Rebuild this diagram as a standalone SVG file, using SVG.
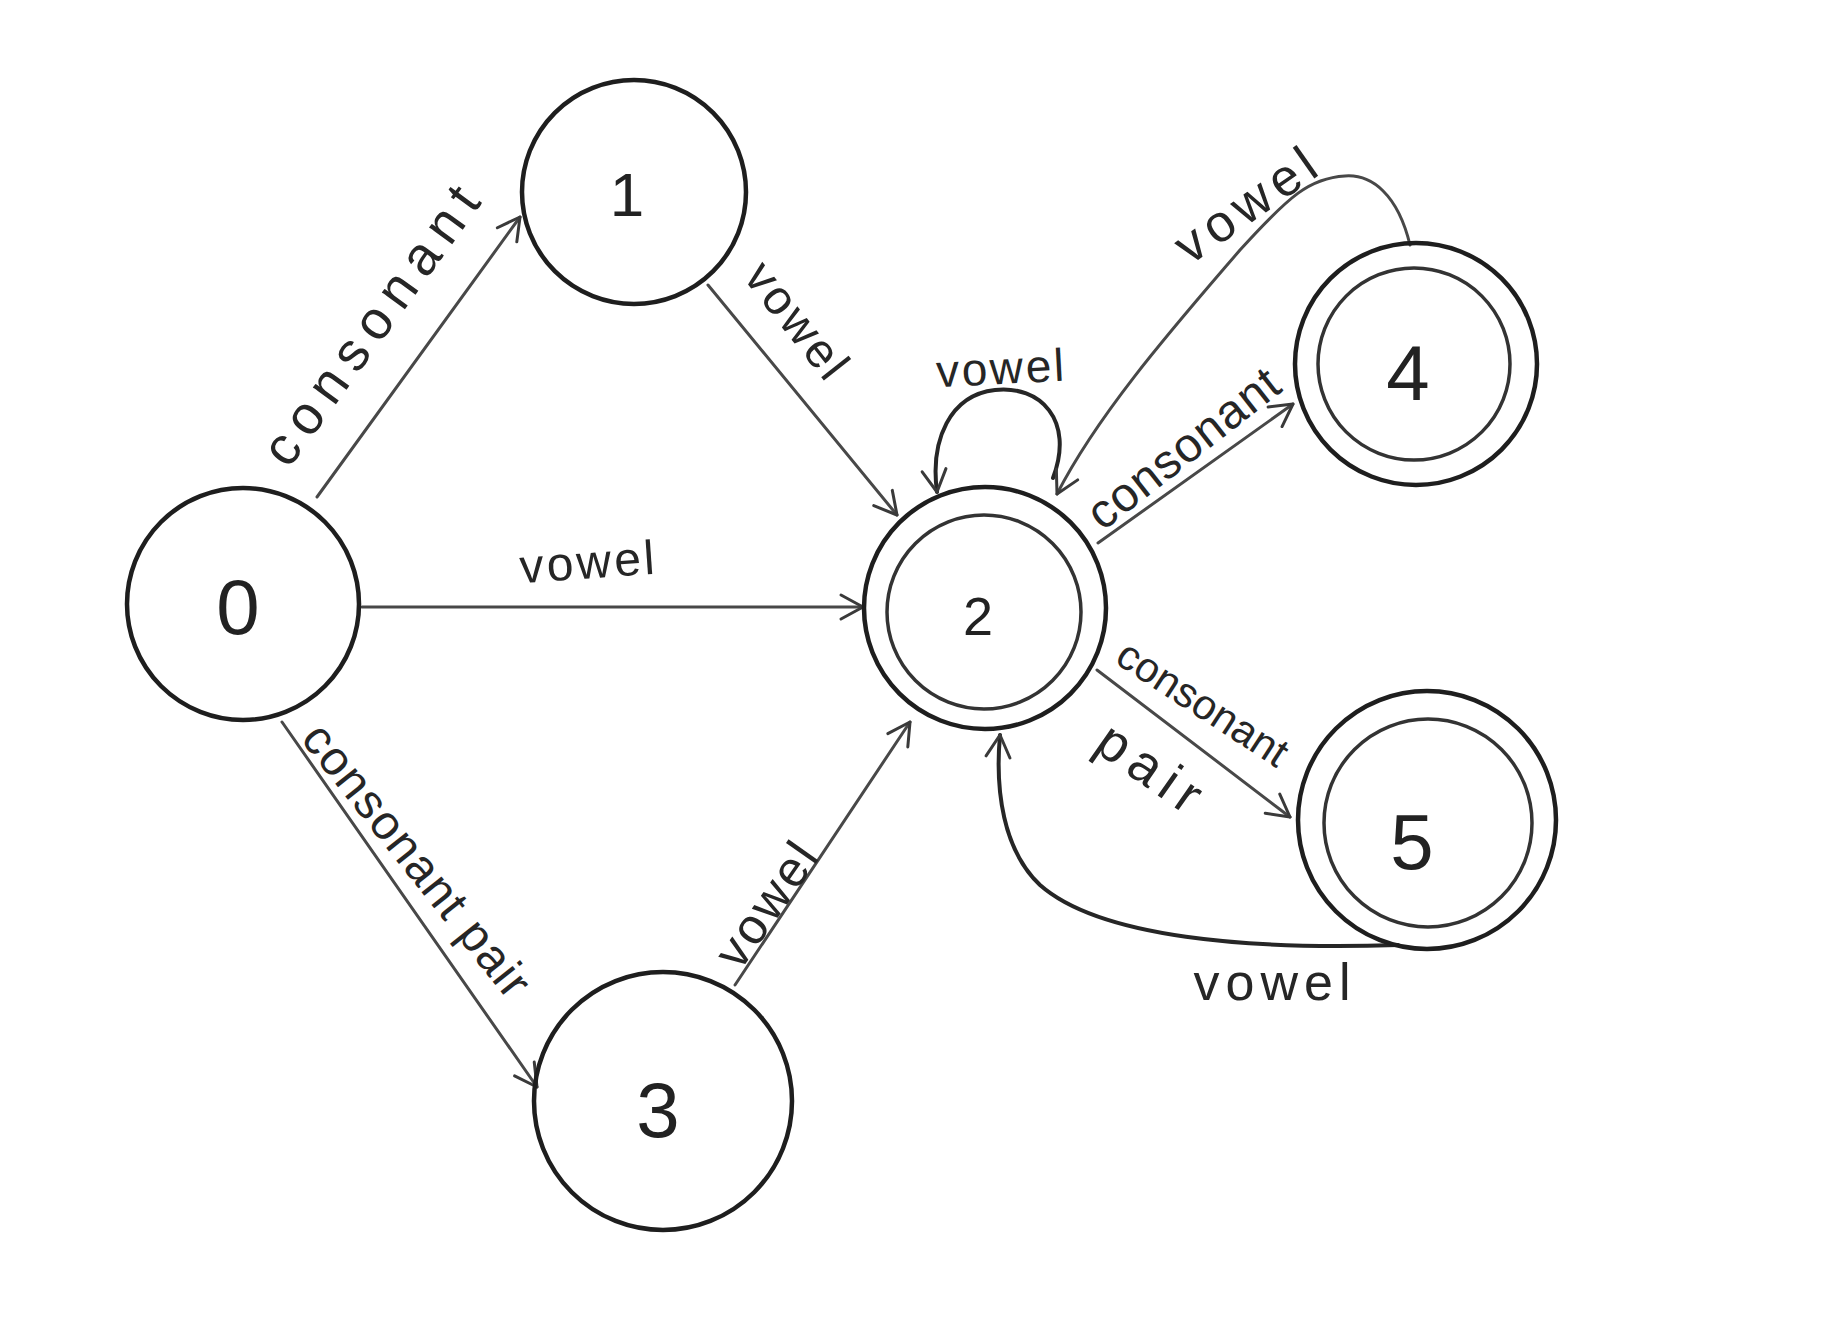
<svg xmlns="http://www.w3.org/2000/svg" width="1842" height="1320" viewBox="0 0 1842 1320">
  <style>
    .state { fill: none; stroke: #1e1e1e; stroke-width: 4.5; }
    .inner { fill: none; stroke: #333; stroke-width: 3.5; }
    .edge { fill: none; stroke: #484848; stroke-width: 3; stroke-linecap: round; }
    .loop { fill: none; stroke: #262626; stroke-width: 4; stroke-linecap: round; }
    .num { font-family: "Liberation Sans", "DejaVu Sans", sans-serif; font-size: 78px; fill: #222; text-anchor: middle; dominant-baseline: central; }
    .lbl { font-family: "Liberation Sans", "DejaVu Sans", sans-serif; font-size: 48px; fill: #262626; text-anchor: middle; dominant-baseline: central; }
  </style>
  <defs>
    <marker id="arrow" viewBox="0 0 30 30" refX="27" refY="15" markerWidth="30" markerHeight="30" markerUnits="userSpaceOnUse" orient="auto">
      <path d="M5,3 L27,15 L5,27" fill="none" stroke="#3a3a3a" stroke-width="3" stroke-linecap="round" stroke-linejoin="round"/>
    </marker>
  </defs>
  <rect width="1842" height="1320" fill="#ffffff"/>

  <!-- transitions -->
  <g id="connectors">
    <path class="edge" d="M317,497 L520,217" marker-end="url(#arrow)"/>
    <path class="edge" d="M708,285 L897,515" marker-end="url(#arrow)"/>
    <path class="edge" d="M362,607 L863,607" marker-end="url(#arrow)"/>
    <path class="edge" d="M282,722 L537,1087" marker-end="url(#arrow)"/>
    <path class="edge" d="M735,985 L910,722" marker-end="url(#arrow)"/>
    <path class="loop" d="M1053,478 C1075,420 1040,385 995,390 C950,395 930,440 937,492" marker-end="url(#arrow)"/>
    <path class="edge" d="M1098,543 L1293,404" marker-end="url(#arrow)"/>
    <path class="edge" d="M1410,245 C1398,195 1372,174 1345,176 C1310,178 1290,195 1240,250 C1180,320 1100,410 1057,494" marker-end="url(#arrow)"/>
    <path class="edge" d="M1097,670 L1290,817" marker-end="url(#arrow)"/>
    <path class="loop" d="M1398,945 C1250,950 1100,938 1040,885 C1003,850 995,790 1000,735" marker-end="url(#arrow)"/>

    <text class="lbl" transform="translate(370,325) rotate(-54)" style="font-size:54px" textLength="330" lengthAdjust="spacing">consonant</text>
    <text class="lbl" transform="translate(797,320) rotate(51.6)" textLength="135" lengthAdjust="spacing">vowel</text>
    <text class="lbl" transform="translate(587,562) rotate(-4)" textLength="135" lengthAdjust="spacing">vowel</text>
    <text class="lbl" transform="translate(417,860) rotate(51.5)" textLength="335" lengthAdjust="spacing">consonant pair</text>
    <text class="lbl" transform="translate(766,905) rotate(-55)" style="font-size:50px" textLength="140" lengthAdjust="spacing">vowel</text>
    <text class="lbl" transform="translate(1000,368) rotate(-3)" style="font-size:46px" textLength="128" lengthAdjust="spacing">vowel</text>
    <text class="lbl" transform="translate(1183,448) rotate(-38)" textLength="230" lengthAdjust="spacing">consonant</text>
    <text class="lbl" transform="translate(1245,205) rotate(-35)" style="font-size:52px" textLength="160" lengthAdjust="spacing">vowel</text>
    <text class="lbl" transform="translate(1203,703) rotate(33)" style="font-size:42px" textLength="195" lengthAdjust="spacing">consonant</text>
    <text class="lbl" transform="translate(1150,767) rotate(35)" style="font-size:54px" textLength="115" lengthAdjust="spacing">pair</text>
    <text class="lbl" transform="translate(1272,982)" style="font-size:52px" textLength="157" lengthAdjust="spacing">vowel</text>
  </g>

  <!-- states -->
  <g id="node-0">
    <circle class="state" cx="243" cy="604" r="116"/>
    <text class="num" x="238" y="607">0</text>
  </g>
  <g id="node-1">
    <circle class="state" cx="634" cy="192" r="112"/>
    <text class="num" x="627" y="194" style="font-size:62px">1</text>
  </g>
  <g id="node-2">
    <circle class="state" cx="985" cy="608" r="121"/>
    <circle class="inner" cx="984" cy="612" r="97"/>
    <text class="num" x="978" y="616" style="font-size:54px">2</text>
  </g>
  <g id="node-3">
    <circle class="state" cx="663" cy="1101" r="129"/>
    <text class="num" x="658" y="1110">3</text>
  </g>
  <g id="node-4">
    <circle class="state" cx="1416" cy="364" r="121"/>
    <circle class="inner" cx="1414" cy="364" r="96"/>
    <text class="num" x="1408" y="373">4</text>
  </g>
  <g id="node-5">
    <circle class="state" cx="1427" cy="820" r="129"/>
    <circle class="inner" cx="1428" cy="823" r="104"/>
    <text class="num" x="1412" y="842">5</text>
  </g>
</svg>
